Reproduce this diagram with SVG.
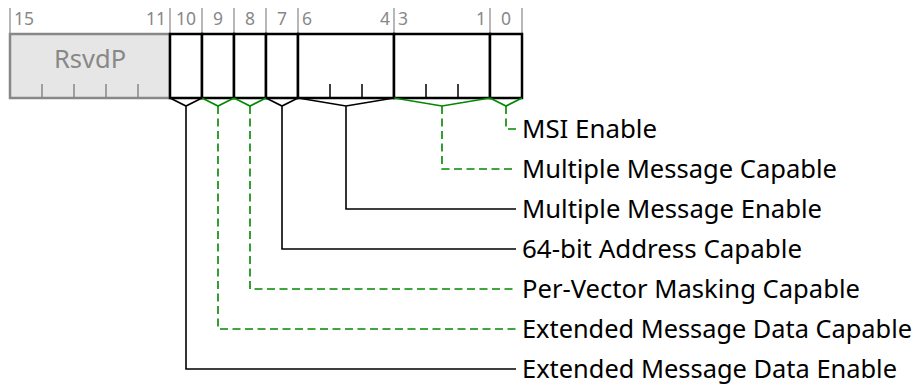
<svg xmlns="http://www.w3.org/2000/svg" width="916" height="385" viewBox="0 0 916 385">
<style>
.bn{font-family:"Noto Sans","Open Sans",sans-serif;font-size:17.5px;fill:#888}
.lbl{font-family:"Noto Sans","Open Sans",sans-serif;font-size:25px;fill:#000}
.rs{font-family:"Noto Sans","Open Sans",sans-serif;font-size:25.5px;fill:#888}
.htick{stroke:#888;stroke-width:1.2}
.fld{fill:#fff;stroke:#000;stroke-width:2.5}
.rsv{fill:#e6e6e6;stroke:#888;stroke-width:2.5}
.tk{stroke:#000;stroke-width:1.5}
.tkg{stroke:#888;stroke-width:1.5}
.rw{fill:none;stroke:#000;stroke-width:1.6}
.ro{fill:none;stroke:#008800;stroke-width:1.6}
.dash{stroke-dasharray:8,4.5}
</style>
<g id="header">
<path class="htick" d="M10,8V33M170,8V33M202,8V33M234,8V33M266,8V33M298,8V33M394,8V33M490,8V33M522,8V33"/>
<text class="bn" x="14" y="24.5">15</text>
<text class="bn" x="166" y="24.5" text-anchor="end">11</text>
<text class="bn" x="186" y="24.5" text-anchor="middle">10</text>
<text class="bn" x="218" y="24.5" text-anchor="middle">9</text>
<text class="bn" x="250" y="24.5" text-anchor="middle">8</text>
<text class="bn" x="282" y="24.5" text-anchor="middle">7</text>
<text class="bn" x="302" y="24.5">6</text>
<text class="bn" x="390" y="24.5" text-anchor="end">4</text>
<text class="bn" x="398" y="24.5">3</text>
<text class="bn" x="486" y="24.5" text-anchor="end">1</text>
<text class="bn" x="506" y="24.5" text-anchor="middle">0</text>
</g>
<g id="f15_11">
<rect class="rsv" x="10" y="34" width="160" height="64"/>
<path class="tkg" d="M42,98V84M74,98V84M106,98V84M138,98V84"/>
<text class="rs" x="90" y="68" text-anchor="middle">RsvdP</text>
</g>
<g id="f10"><rect class="fld" x="170" y="34" width="32" height="64"/></g>
<g id="f9"><rect class="fld" x="202" y="34" width="32" height="64"/></g>
<g id="f8"><rect class="fld" x="234" y="34" width="32" height="64"/></g>
<g id="f7"><rect class="fld" x="266" y="34" width="32" height="64"/></g>
<g id="f6_4"><rect class="fld" x="298" y="34" width="96" height="64"/><path class="tk" d="M330,98V84M362,98V84"/></g>
<g id="f3_1"><rect class="fld" x="394" y="34" width="96" height="64"/><path class="tk" d="M426,98V84M458,98V84"/></g>
<g id="f0"><rect class="fld" x="490" y="34" width="32" height="64"/></g>
<g id="connectors">
<path class="ro" d="M490,98L506,106L522,98"/>
<path class="ro dash" d="M506,106V129H516"/>
<path class="ro" d="M394,98L442,106L490,98"/>
<path class="ro dash" d="M442,106V169H516"/>
<path class="rw" d="M298,98L346,106L394,98M346,106V209H516"/>
<path class="rw" d="M266,98L282,106L298,98M282,106V249H516"/>
<path class="ro" d="M234,98L250,106L266,98"/>
<path class="ro dash" d="M250,106V289H516"/>
<path class="ro" d="M202,98L218,106L234,98"/>
<path class="ro dash" d="M218,106V329H516"/>
<path class="rw" d="M170,98L186,106L202,98M186,106V369H516"/>
</g>
<g id="labels">
<text class="lbl" x="522" y="138" textLength="135" lengthAdjust="spacingAndGlyphs">MSI Enable</text>
<text class="lbl" x="522" y="178" textLength="315" lengthAdjust="spacingAndGlyphs">Multiple Message Capable</text>
<text class="lbl" x="522" y="218" textLength="300" lengthAdjust="spacingAndGlyphs">Multiple Message Enable</text>
<text class="lbl" x="522" y="258" textLength="280" lengthAdjust="spacingAndGlyphs">64-bit Address Capable</text>
<text class="lbl" x="522" y="298" textLength="338" lengthAdjust="spacingAndGlyphs">Per-Vector Masking Capable</text>
<text class="lbl" x="522" y="338" textLength="390" lengthAdjust="spacingAndGlyphs">Extended Message Data Capable</text>
<text class="lbl" x="522" y="378" textLength="375" lengthAdjust="spacingAndGlyphs">Extended Message Data Enable</text>
</g>
</svg>
